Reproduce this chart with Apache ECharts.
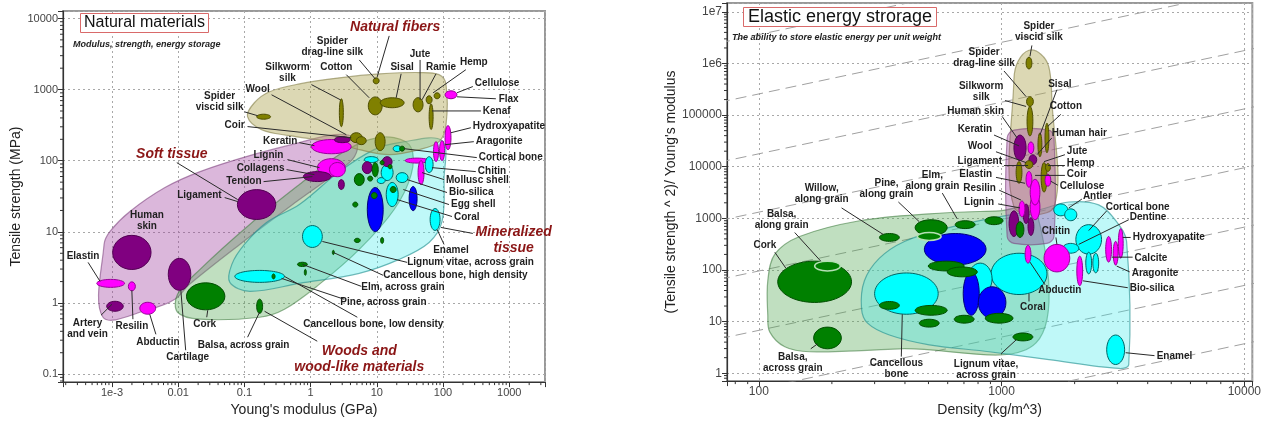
<!DOCTYPE html>
<html><head><meta charset="utf-8">
<script src="https://cdn.jsdelivr.net/npm/echarts@6/dist/echarts.min.js"></script>
<style>html,body{margin:0;padding:0;background:#fff}#c{width:1264px;height:422px}</style>
</head><body><div id="c"></div>
<script>
// ================= DATA =================
// Left chart: [name, group, log10 E (GPa), log10 strength (MPa), half-spread E (decades), half-spread strength (decades)]
const leftMaterials = [
['Elastin','M',-3.02,0.276,0.21,0.056],
['Artery and vein','P',-2.955,-0.046,0.125,0.07],
['Human skin','P',-2.70,0.711,0.29,0.24],
['Resilin','M',-2.70,0.234,0.053,0.063],
['Abductin','M',-2.46,-0.074,0.12,0.084],
['Cartilage','P',-1.98,0.403,0.17,0.225],
['Ligament','P',-0.816,1.384,0.29,0.21],
['Collagens','M',0.313,1.903,0.21,0.126],
['Lignin','M',0.404,1.875,0.12,0.1],
['Tendon','P',0.10,1.777,0.21,0.07],
['Collagen fibre','P',0.464,1.665,0.045,0.07],
['Keratin','M',0.313,2.198,0.3,0.1],
['Wool','P',0.479,2.296,0.12,0.042],
['Spider viscid silk','O',-0.71,2.619,0.105,0.035],
['Silkworm silk','O',0.464,2.675,0.03,0.196],
['Spider drag-line silk','O',0.99,3.123,0.045,0.042],
['Cotton','O',0.976,2.771,0.105,0.126],
['Sisal','O',1.232,2.815,0.18,0.07],
['Jute','O',1.623,2.787,0.075,0.1],
['Ramie','O',1.79,2.857,0.045,0.056],
['Kenaf','O',1.82,2.619,0.03,0.18],
['Hemp','O',1.91,2.913,0.045,0.042],
['Coir','O',0.69,2.324,0.09,0.07],
['Coir 2','O',0.765,2.282,0.075,0.056],
['Flax','O',1.05,2.268,0.075,0.126],
['Cellulose','M',2.12,2.927,0.09,0.056],
['Hydroxyapatite','M',2.075,2.324,0.045,0.17],
['Aragonite','M',1.985,2.142,0.038,0.14],
['Calcite','M',1.894,2.128,0.038,0.14],
['Cortical bone','C',1.307,2.17,0.06,0.042],
['Oak','G',1.382,2.17,0.038,0.035],
['Antler','M',1.608,2.002,0.18,0.035],
['Mollusc shell','M',1.668,1.833,0.045,0.17],
['Chitin','C',1.79,1.945,0.06,0.112],
['Enamel','C',1.88,1.174,0.075,0.154],
['Egg shell','B',1.548,1.468,0.06,0.17],
['Bone','B',0.976,1.314,0.12,0.31],
['Wood 1','G',0.96,1.51,0.045,0.042],
['Bio-silica','C',1.232,1.525,0.09,0.17],
['Wood 2','G',1.247,1.595,0.045,0.042],
['Coral','C',1.382,1.763,0.09,0.07],
['Dentine','C',1.156,1.833,0.09,0.112],
['Mineral 1','C',1.066,1.721,0.06,0.042],
['Mineral 2','C',0.916,2.016,0.105,0.042],
['Soft 1','P',0.855,1.903,0.075,0.084],
['Soft 2','P',1.156,1.987,0.075,0.07],
['Wood 3','G',0.735,1.735,0.075,0.084],
['Wood 4','G',0.976,1.875,0.045,0.1],
['Wood 5','G',1.08,1.973,0.03,0.03],
['Wood 6','G',1.20,1.917,0.03,0.03],
['Wood 7','G',0.90,1.749,0.038,0.035],
['Wood 8','G',0.675,1.384,0.038,0.035],
['Wood 9','G',0.705,0.88,0.045,0.03],
['Lignum vitae, across grain','G',1.08,0.88,0.023,0.042],
['Cancellous bone, high density','C',0.027,0.935,0.15,0.154],
['Cancellous bone (2)','G',0.343,0.711,0.015,0.03],
['Elm, across grain','G',-0.124,0.543,0.075,0.03],
['Wood 10','G',-0.08,0.431,0.015,0.042],
['Cancellous bone, low density','C',-0.77,0.374,0.375,0.084],
['Pine, across grain','G',-0.56,0.374,0.023,0.035],
['Cork','G',-1.585,0.094,0.29,0.19],
['Balsa, across grain','G',-0.77,-0.046,0.045,0.1]
];
// Left envelopes: [name, style, [[log10 E, log10 strength], ...]]
const leftEnvelopes = [
['Soft tissue','soft',[[-3.136,-0.2],[-3.12,0.823],[-3.03,1.006],[-2.73,1.286],[-2.20,1.623],[-1.67,1.847],[-0.92,2.072],[-0.17,2.254],[0.358,2.366],[0.66,2.324],[0.705,2.156],[0.584,1.973],[-0.17,1.454],[-1.07,0.823],[-1.83,0.262],[-2.05,0.052],[-2.43,-0.088]]],
['Woods','wood',[[-2.01,-0.13],[-2.01,0.122],[-1.67,0.473],[-0.92,1.104],[-0.17,1.665],[0.434,2.086],[0.885,2.296],[1.262,2.324],[1.518,2.184],[1.518,1.805],[1.262,1.314],[0.735,0.753],[0.13,0.262],[-0.395,-0.088],[-0.77,-0.2],[-1.67,-0.228]]],
['Mineralized tissue','mineral',[[-1.22,0.29],[-1.19,0.543],[-1.0,0.823],[-0.666,1.132],[-0.17,1.384],[0.434,1.847],[0.96,2.156],[1.337,2.254],[1.985,2.282],[2.015,1.735],[1.985,1.146],[1.79,0.851],[1.337,0.613],[0.735,0.417],[-0.17,0.276],[-0.92,0.164]]],
['Natural fibers','fiber',[[-0.953,2.619],[-0.85,2.815],[-0.62,2.97],[-0.17,3.08],[0.434,3.165],[1.036,3.22],[1.64,3.24],[1.94,3.21],[2.045,3.07],[2.045,2.505],[1.94,2.268],[1.64,2.156],[1.187,2.086],[0.735,2.156],[0.283,2.268],[-0.32,2.352],[-0.74,2.436]]]
];
// Left annotations: [text, log10 x, log10 y, align, leader from x, y, leader to x, y]
const leftLabels = [
['Spider\nviscid silk',-1.375,2.83,'c',-0.997,2.687,-0.80,2.633],
['Wool',-0.80,3.0,'c',-0.59,2.927,0.539,2.366],
['Silkworm\nsilk',-0.35,3.235,'c',0.012,3.07,0.449,2.857],
['Spider\ndrag-line silk',0.328,3.6,'c',0.735,3.417,0.976,3.15],
['Cotton',0.388,3.31,'c',0.539,3.21,0.885,2.885],
['Sisal',1.382,3.31,'c',1.367,3.222,1.292,2.885],
['Jute',1.653,3.5,'c',1.653,3.417,1.653,2.857],
['Ramie',1.97,3.31,'c',1.894,3.222,1.683,2.857],
['Hemp',2.465,3.39,'c',2.345,3.28,1.85,2.955],
['Cellulose',2.48,3.085,'l',2.45,3.043,2.21,2.955],
['Flax',2.84,2.871,'l',2.798,2.871,2.21,2.899],
['Kenaf',2.60,2.70,'l',2.572,2.70,1.833,2.70],
['Hydroxyapatite',2.45,2.48,'l',2.42,2.464,2.12,2.394],
['Aragonite',2.495,2.268,'l',2.465,2.268,2.03,2.226],
['Cortical bone',2.54,2.044,'l',2.51,2.044,1.41,2.17],
['Chitin',2.525,1.847,'l',2.495,1.847,1.833,1.903],
['Mollusc shell',2.045,1.721,'l',2.015,1.735,1.683,1.833],
['Bio-silica',2.09,1.553,'l',2.06,1.553,1.458,1.735],
['Egg shell',2.12,1.384,'l',2.09,1.384,1.40,1.595],
['Coral',2.165,1.202,'l',2.135,1.216,1.307,1.454],
['Enamel',2.12,0.74,'c',2.015,0.823,1.91,1.034],
['Lignum vitae, across grain',1.458,0.571,'l',1.458,0.571,0.178,0.865],
['Cancellous bone, high density',1.096,0.389,'l',1.096,0.389,0.343,0.711],
['Elm, across grain',0.765,0.22,'l',0.765,0.234,-0.124,0.543],
['Pine, across grain',0.449,0.01,'l',0.509,0.052,-0.44,0.346],
['Cancellous bone, low density',-0.11,-0.3,'l',0.705,-0.2,-0.395,0.374],
['Human\nskin',-2.473,1.16,'c'],
['Elastin',-3.437,0.655,'c',-3.361,0.571,-3.18,0.304],
['Artery\nand vein',-3.37,-0.36,'c',-3.166,-0.172,-3.0,-0.018],
['Resilin',-2.70,-0.327,'c',-2.684,-0.228,-2.70,0.178],
['Abductin',-2.307,-0.55,'c',-2.337,-0.44,-2.43,-0.158],
['Cartilage',-1.857,-0.762,'c',-1.887,-0.664,-1.96,0.178],
['Cork',-1.60,-0.3,'c',-1.569,-0.2,-1.554,-0.102],
['Balsa, across grain',-1.012,-0.593,'c',-0.952,-0.481,-0.771,-0.13],
['Ligament',-1.344,1.51,'r',-1.298,1.482,-1.102,1.426],
['Tendon',-0.741,1.706,'r',-0.711,1.706,0.027,1.777],
['Collagens',-0.395,1.889,'r',-0.364,1.875,0.057,1.805],
['Lignin',-0.41,2.072,'r',-0.35,2.016,0.133,1.903],
['Keratin',-0.199,2.268,'r',-0.17,2.254,0.057,2.212],
['Coir',-0.997,2.492,'r',-0.953,2.48,0.614,2.324]
];
const leftGroupLabels = [
['Natural fibers',1.277,3.881,'c',1.187,3.755,1.006,3.18],
['Soft tissue',-2.096,2.086,'c',-2.021,1.973,-1.102,1.454],
['Mineralized\ntissue',3.066,0.879,'c',2.45,0.978,1.97,1.062],
['Woods and\nwood-like materials',0.735,-0.79,'c',0.10,-0.537,-0.696,-0.116]
];
const leftXTickValues = [1e-3,0.01,0.1,1,10,100,1000];
const leftXTickLabels = ['1e-3','0.01','0.1','1','10','100','1000'];
const leftYTickValues = [0.1,1,10,100,1000,10000];
const leftYTickLabels = ['0.1','1','10','100','1000','10000'];

// Right chart: [name, group, log10 density (kg/m^3), log10 strength^2/modulus, half-spread x, half-spread y]
const rightMaterials = [
['Cork','G',2.23,1.771,0.152,0.40],
['Balsa, along grain','g',2.283,2.076,0.053,0.095],
['Balsa, across grain','G',2.283,0.683,0.057,0.21],
['Willow, along grain','G',2.538,2.63,0.041,0.076],
['Cancellous bone','C',2.608,1.542,0.131,0.40],
['Coral','C',3.072,1.924,0.115,0.40],
['Bone 2','C',2.912,1.828,0.049,0.305],
['Enamel','C',3.47,0.454,0.037,0.286],
['Antler','C',3.244,3.164,0.029,0.115],
['Antler 2','C',3.285,3.069,0.025,0.115],
['Dentine','C',3.359,2.592,0.053,0.286],
['Cortical bone','C',3.285,2.42,0.033,0.095],
['Mineral 1','C',3.359,2.134,0.012,0.21],
['Mineral 2','C',3.388,2.134,0.012,0.19],
['Wood blue 1','B',2.809,2.401,0.127,0.305],
['Wood blue 2','B',2.875,1.542,0.033,0.42],
['Wood blue 3','B',2.961,1.37,0.057,0.305],
['Pine, along grain','G',2.71,2.82,0.066,0.153],
['Pine 2','g',2.702,2.649,0.049,0.076],
['Elm, along grain','G',2.85,2.878,0.041,0.076],
['Wood 5','G',2.969,2.954,0.037,0.076],
['Wood 6','G',2.772,2.076,0.074,0.095],
['Wood 7','G',2.838,1.962,0.062,0.095],
['Wood 8','G',2.538,1.313,0.041,0.076],
['Wood 9','G',2.71,1.218,0.066,0.095],
['Wood 10','G',2.702,0.969,0.041,0.076],
['Wood 11','G',2.846,1.046,0.041,0.076],
['Wood 12','G',2.99,1.065,0.057,0.095],
['Lignum vitae, across grain','G',3.088,0.702,0.041,0.076],
['Chitin','M',3.228,2.229,0.053,0.267],
['Bio-silica','M',3.322,1.981,0.012,0.286],
['Calcite','M',3.441,2.401,0.012,0.248],
['Aragonite','M',3.47,2.324,0.01,0.23],
['Hydroxyapatite','M',3.491,2.515,0.01,0.286],
['Soft 1','P',3.051,2.897,0.02,0.248],
['Soft 2','P',3.101,3.088,0.012,0.19],
['Soft 3','P',3.121,2.84,0.012,0.172],
['Lignin','M',3.138,3.221,0.02,0.248],
['Resilin','M',3.084,3.183,0.012,0.153],
['Wood 13','G',3.076,2.782,0.016,0.153],
['Abductin','M',3.109,2.305,0.012,0.172],
['Silkworm silk','O',3.117,4.882,0.012,0.286],
['Sisal','O',3.158,4.424,0.008,0.23],
['Cotton','O',3.187,4.557,0.008,0.286],
['Jute 2','O',3.175,3.794,0.012,0.286],
['Wool','O',3.072,3.889,0.012,0.21],
['Keratin','P',3.076,4.366,0.025,0.248],
['Human skin','M',3.121,4.366,0.012,0.115],
['Human hair','P',3.129,4.137,0.016,0.095],
['Elastin','M',3.113,3.756,0.012,0.153],
['Elastin 2','M',3.138,3.508,0.02,0.248],
['Cellulose','M',3.191,3.737,0.012,0.115],
['Jute','O',3.191,3.985,0.01,0.076],
['Ligament','O',3.113,4.042,0.016,0.076],
['Spider viscid silk','O',3.113,6.008,0.012,0.115],
['Spider drag-line silk','O',3.117,5.263,0.014,0.095]
];
const rightEnvelopes = [
['Woods','wood',[[2.037,1.122],[2.037,1.79],[2.066,2.305],[2.168,2.649],[2.415,2.954],[2.702,3.088],[2.99,3.145],[3.142,3.164],[3.142,0.588],[2.579,0.473],[2.209,0.416],[2.107,0.511],[2.045,0.80]]],
['Mineralized','mineral',[[2.423,1.256],[2.435,1.79],[2.497,2.229],[2.60,2.553],[2.764,2.80],[2.99,3.031],[3.154,3.164],[3.277,3.317],[3.40,3.26],[3.474,2.935],[3.515,2.553],[3.524,0.168],[3.483,0.092],[3.195,0.263],[2.949,0.416],[2.702,0.55],[2.538,0.74],[2.448,0.969]]],
['Natural fibers','fiber',[[3.051,3.221],[3.051,5.70],[3.068,6.045],[3.113,6.256],[3.162,6.18],[3.195,5.93],[3.207,5.32],[3.216,3.221]]],
['Soft tissue','soft',[[3.023,4.557],[3.051,4.71],[3.195,4.71],[3.216,4.557],[3.216,2.649],[3.187,2.515],[3.051,2.515],[3.023,2.649]]]
];
const rightLabels = [
['Spider\nviscid silk',3.154,6.615,'c',3.125,6.35,3.117,6.14],
['Spider\ndrag-line silk',2.928,6.103,'c',3.01,5.855,3.101,5.359],
['Silkworm\nsilk',2.916,5.454,'c',3.014,5.282,3.101,5.168],
['Sisal',3.24,5.607,'c',3.228,5.492,3.158,4.614],
['Cotton',3.265,5.168,'c',3.244,5.014,3.191,4.786],
['Human skin',3.01,5.073,'r',3.002,4.977,3.064,4.557],
['Keratin',2.961,4.729,'r',2.969,4.614,3.072,4.404],
['Human hair',3.207,4.653,'l',3.207,4.557,3.146,4.233],
['Wool',2.961,4.404,'r',2.977,4.29,3.101,4.08],
['Jute',3.269,4.309,'l',3.261,4.233,3.175,4.099],
['Ligament',3.002,4.099,'r',3.01,4.023,3.109,4.023],
['Hemp',3.269,4.061,'l',3.261,4.023,3.191,4.023],
['Elastin',2.961,3.851,'r',2.977,3.794,3.097,3.679],
['Coir',3.269,3.851,'l',3.261,3.832,3.138,3.832],
['Resilin',2.977,3.584,'r',2.99,3.546,3.08,3.355],
['Cellulose',3.24,3.622,'l',3.232,3.641,3.203,3.718],
['Lignin',2.969,3.317,'r',2.986,3.279,3.076,3.202],
['Antler',3.335,3.431,'l',3.331,3.374,3.277,3.202],
['Cortical bone',3.429,3.221,'l',3.433,3.145,3.359,2.763],
['Dentine',3.528,3.012,'l',3.524,2.973,3.318,2.496],
['Hydroxyapatite',3.54,2.63,'l',3.532,2.63,3.499,2.63],
['Calcite',3.548,2.229,'l',3.54,2.248,3.454,2.248],
['Aragonite',3.536,1.943,'l',3.528,1.962,3.474,2.076],
['Bio-silica',3.528,1.637,'l',3.52,1.656,3.335,1.79],
['Chitin',3.224,2.744,'c',3.224,2.63,3.228,2.496],
['Abductin',3.24,1.599,'c',3.179,1.714,3.117,2.153],
['Coral',3.129,1.275,'c',3.113,1.389,3.113,1.542],
['Enamel',3.639,0.321,'l',3.63,0.34,3.511,0.397],
['Lignum vitae,\nacross grain',2.936,0.073,'c',2.998,0.378,3.06,0.645],
['Cancellous\nbone',2.567,0.092,'c',2.587,0.321,2.591,1.141],
['Balsa,\nacross grain',2.14,0.206,'c',2.214,0.473,2.242,0.569],
['Cork',2.025,2.477,'c',2.066,2.343,2.111,2.038],
['Balsa,\nalong grain',2.094,2.973,'c',2.148,2.725,2.255,2.172],
['Willow,\nalong grain',2.259,3.469,'c',2.341,3.202,2.513,2.687],
['Pine,\nalong grain',2.526,3.565,'c',2.575,3.317,2.661,2.935],
['Elm,\nalong grain',2.715,3.737,'c',2.756,3.489,2.817,2.992]
];
// dashed guide lines: log10 of (strength^2/modulus) / density
const rightGuideLogRatio = [4.56, 3.41, 2.25, 1.12, -0.02, -1.17, -2.30, -3.43];
const rightXTickValues = [100,1000,10000];
const rightXTickLabels = ['100','1000','10000'];
const rightYTickValues = [1,10,100,1000,1e4,1e5,1e6,1e7];
const rightYTickLabels = ['1','10','100','1000','10000','100000','1e6','1e7'];
// minor tick multipliers within each decade (axis decoration)
const minorMultipliers = [2,3,4,5,6,7,8,9];

// ================= STYLES =================
const FF = '"Liberation Sans", Arial, sans-serif';
const GROUP_STYLE = {
  O:{fill:'#808000',stroke:'#4d4d00'}, P:{fill:'#800080',stroke:'#520052'},
  M:{fill:'#ff00ff',stroke:'#990099'}, G:{fill:'#008000',stroke:'#004d00'},
  g:{fill:'#008000',stroke:'#b5dfb5'}, C:{fill:'#00ffff',stroke:'#006666'},
  B:{fill:'#0000ff',stroke:'#00007a'}
};
const ENV_STYLE = {
  soft:{fill:'rgba(155,55,155,0.36)',stroke:'rgba(120,60,120,0.55)'},
  wood:{fill:'rgba(80,167,80,0.36)',stroke:'rgba(60,120,60,0.55)'},
  mineral:{fill:'rgba(60,235,235,0.33)',stroke:'rgba(30,140,140,0.6)'},
  fiber:{fill:'rgba(177,169,89,0.45)',stroke:'rgba(130,125,70,0.6)'}
};
const ALIGN = {c:'center',l:'left',r:'right'};
const P10 = v => Math.pow(10, v);

function ellipseRender(list){
  return function(params, api){
    const m = list[params.dataIndex];
    const c = api.coord([P10(m[2]), P10(m[3])]);
    const p = api.coord([P10(m[2]+m[4]), P10(m[3]+m[5])]);
    const st = GROUP_STYLE[m[1]];
    return {type:'ellipse', shape:{cx:c[0], cy:c[1], rx:Math.abs(p[0]-c[0]), ry:Math.abs(c[1]-p[1])},
      style:{fill:st.fill, stroke:st.stroke, lineWidth:m[1]==='g'?1.5:1}};
  };
}
function envelopeRender(list){
  return function(params, api){
    const e = list[params.dataIndex];
    const pts = e[2].map(q => api.coord([P10(q[0]), P10(q[1])]));
    const st = ENV_STYLE[e[1]];
    return {type:'polygon', shape:{points:pts, smooth:0.35}, style:{fill:st.fill, stroke:st.stroke, lineWidth:1.2}};
  };
}
function labelRender(list, font, color, lh){
  return function(params, api){
    const L = list[params.dataIndex];
    const t = api.coord([P10(L[1]), P10(L[2])]);
    const ch = [];
    if (L.length > 4){
      const a = api.coord([P10(L[4]), P10(L[5])]), b = api.coord([P10(L[6]), P10(L[7])]);
      ch.push({type:'line', shape:{x1:a[0],y1:a[1],x2:b[0],y2:b[1]}, style:{stroke:'#2a2a2a', lineWidth:1}});
    }
    ch.push({type:'text', x:t[0], y:t[1], style:{text:L[0], font:font, fill:color, align:ALIGN[L[3]], verticalAlign:'middle', lineHeight:lh}});
    return {type:'group', children:ch};
  };
}
// minor ticks at 2..9 x 10^k along bottom and left axes of a grid
function minorTickRender(xDec, yDec, refX, refY){
  return function(params, api){
    const cs = params.coordSys;
    const ch = [];
    const bottom = cs.y + cs.height, left = cs.x;
    for (let k = xDec[0]; k <= xDec[1]; k++) for (const m of minorMultipliers){
      const px = api.coord([m*P10(k), refY])[0];
      if (px > cs.x + 0.5 && px < cs.x + cs.width - 0.5)
        ch.push({type:'line', shape:{x1:px,y1:bottom,x2:px,y2:bottom+3}, style:{stroke:'#333', lineWidth:1}});
    }
    for (let k = yDec[0]; k <= yDec[1]; k++) for (const m of minorMultipliers){
      const py = api.coord([refX, m*P10(k)])[1];
      if (py > cs.y + 0.5 && py < bottom - 0.5)
        ch.push({type:'line', shape:{x1:left-3,y1:py,x2:left,y2:py}, style:{stroke:'#333', lineWidth:1}});
    }
    return {type:'group', children:ch};
  };
}
function tickFmt(values, labels){
  return function(v){
    for (let i=0;i<values.length;i++){ if (Math.abs(Math.log10(v)-Math.log10(values[i]))<1e-6) return labels[i]; }
    return '';
  };
}
function axisCommon(extra){
  return Object.assign({
    type:'log', logBase:10,
    axisLine:{show:true, onZero:false, lineStyle:{color:'#333', width:1.2}},
    axisTick:{show:true, inside:false, length:5, lineStyle:{color:'#333'}},
    splitLine:{show:true, lineStyle:{color:'#a8a8a8', type:[2,3], width:1}},
    nameLocation:'middle',
    nameTextStyle:{fontSize:14, color:'#222', fontFamily:FF}
  }, extra);
}

const labelFont = 'bold 10px ' + FF;
const groupFont = 'italic bold 14px ' + FF;

const option = {
  animation:false,
  backgroundColor:'#fff',
  textStyle:{fontFamily:FF},
  title:[
    {text:'Natural materials', left:80, top:13, padding:[2,4], borderColor:'#d96a6a', borderWidth:1, backgroundColor:'#fff',
     textStyle:{fontSize:16, fontWeight:'normal', color:'#111', fontFamily:FF}},
    {text:'Modulus, strength, energy storage', left:73, top:40, padding:0,
     textStyle:{fontSize:9, fontWeight:'bold', fontStyle:'italic', color:'#222', fontFamily:FF}},
    {text:'Elastic energy strorage', left:743, top:7, padding:[1,5], borderColor:'#d96a6a', borderWidth:1, backgroundColor:'#fff',
     textStyle:{fontSize:18, fontWeight:'normal', color:'#111', fontFamily:FF}},
    {text:'The ability to store elastic energy per unit weight', left:732, top:33, padding:0,
     textStyle:{fontSize:9, fontWeight:'bold', fontStyle:'italic', color:'#222', fontFamily:FF}}
  ],
  grid:[
    {left:63, top:11, width:482, height:372, show:true, borderColor:'#999', borderWidth:2, backgroundColor:'#fff'},
    {left:727, top:3, width:527, height:384, show:true, borderColor:'#999', borderWidth:2, backgroundColor:'#fff'}
  ],
  xAxis:[
    axisCommon({gridIndex:0, min:P10(-3.74), max:P10(3.54), name:"Young's modulus (GPa)", nameGap:19,
      axisLabel:{fontSize:11, color:'#444', margin:5, formatter:tickFmt(leftXTickValues,leftXTickLabels)}}),
    axisCommon({gridIndex:1, min:P10(1.869), max:P10(4.033), name:'Density (kg/m^3)', nameGap:17,
      axisLabel:{fontSize:12, color:'#444', margin:5, formatter:tickFmt(rightXTickValues,rightXTickLabels)}})
  ],
  yAxis:[
    axisCommon({gridIndex:0, min:P10(-1.112), max:P10(4.105), name:'Tensile strength (MPa)', nameGap:37,
      axisLabel:{fontSize:11, color:'#444', margin:5, formatter:tickFmt(leftYTickValues,leftYTickLabels)}}),
    axisCommon({gridIndex:1, min:P10(-0.153), max:P10(7.172), name:"(Tensile strength ^ 2)/ Young's modulus", nameGap:36,
      axisLabel:{fontSize:12, color:'#444', margin:5, formatter:tickFmt(rightYTickValues,rightYTickLabels)}})
  ],
  series:[
    // left
    {type:'custom', xAxisIndex:0, yAxisIndex:0, z:2, silent:true, clip:true,
     data:leftEnvelopes.map(e=>[P10(e[2][0][0]),P10(e[2][0][1])]), renderItem:envelopeRender(leftEnvelopes)},
    {type:'custom', xAxisIndex:0, yAxisIndex:0, z:3, silent:true,
     data:leftMaterials.map(m=>[P10(m[2]),P10(m[3])]), renderItem:ellipseRender(leftMaterials)},
    {type:'custom', xAxisIndex:0, yAxisIndex:0, z:4, silent:true,
     data:leftLabels.map(l=>[P10(l[1]),P10(l[2])]), renderItem:labelRender(leftLabels,labelFont,'#1e1e1e',11)},
    {type:'custom', xAxisIndex:0, yAxisIndex:0, z:4, silent:true,
     data:leftGroupLabels.map(l=>[P10(l[1]),P10(l[2])]), renderItem:labelRender(leftGroupLabels,groupFont,'#8b1616',16)},
    {type:'custom', xAxisIndex:0, yAxisIndex:0, z:5, silent:true, clip:false,
     data:[[1,1]], renderItem:minorTickRender([-4,3],[-2,4],1,1)},
    // right guide lines
    ...rightGuideLogRatio.map(c => ({type:'line', xAxisIndex:1, yAxisIndex:1, z:1, silent:true, symbol:'none', clip:true,
      lineStyle:{color:'#a0a0a0', width:1, type:[11,6]},
      data:[[50, 50*P10(c)],[20000, 20000*P10(c)]]})),
    {type:'custom', xAxisIndex:1, yAxisIndex:1, z:2, silent:true, clip:true,
     data:rightEnvelopes.map(e=>[P10(e[2][0][0]),P10(e[2][0][1])]), renderItem:envelopeRender(rightEnvelopes)},
    {type:'custom', xAxisIndex:1, yAxisIndex:1, z:3, silent:true,
     data:rightMaterials.map(m=>[P10(m[2]),P10(m[3])]), renderItem:ellipseRender(rightMaterials)},
    {type:'custom', xAxisIndex:1, yAxisIndex:1, z:4, silent:true,
     data:rightLabels.map(l=>[P10(l[1]),P10(l[2])]), renderItem:labelRender(rightLabels,labelFont,'#1e1e1e',11)},
    {type:'custom', xAxisIndex:1, yAxisIndex:1, z:5, silent:true, clip:false,
     data:[[1000,1000]], renderItem:minorTickRender([1,4],[-1,7],1000,1000)}
  ]
};
const chart = echarts.init(document.getElementById('c'), null, {renderer:'canvas'});
chart.setOption(option);
</script>
</body></html>
